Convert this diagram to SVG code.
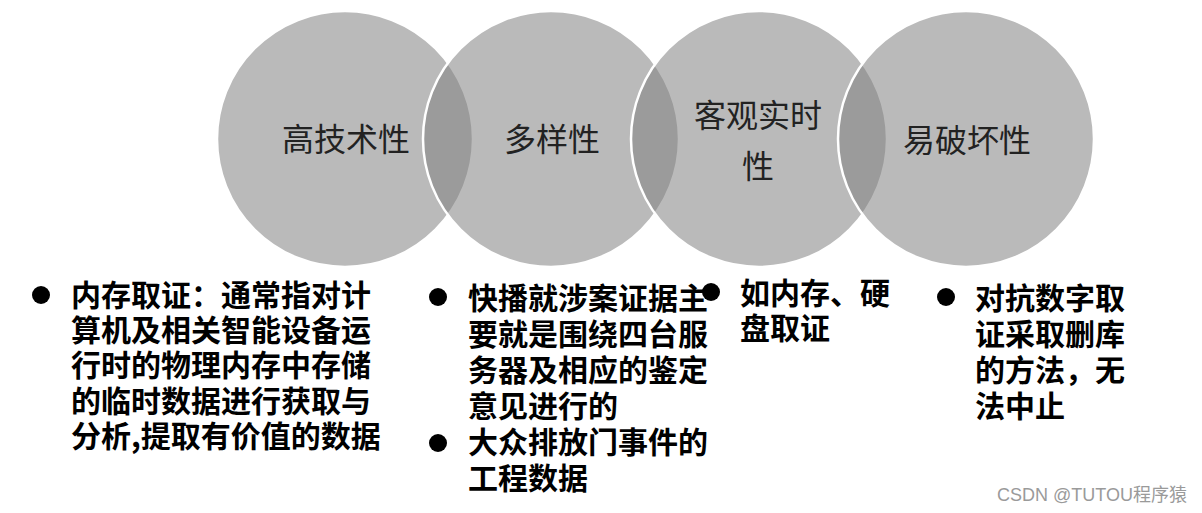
<svg xmlns="http://www.w3.org/2000/svg" width="1202" height="513" viewBox="0 0 1202 513">
<style>
.c{fill:#828282;fill-opacity:0.55;stroke:#ffffff;stroke-width:2.5}
.ct{font-family:"Noto Sans CJK SC","Liberation Sans",sans-serif;font-size:32px;fill:#222222;text-anchor:middle;font-weight:400}
.bt{font-family:"Noto Sans CJK SC","Liberation Sans",sans-serif;font-size:30px;fill:#000000;font-weight:700}
.dot{fill:#000000}
.wm{font-family:"Liberation Sans","Noto Sans CJK SC",sans-serif;font-size:18px;fill:#9a9a9a}
</style>
<rect width="1202" height="513" fill="#ffffff"/>
<g id="node-gaojishuxing">
<circle class="c" cx="345" cy="139" r="128"/>
<text class="ct" x="346" y="151">高技术性</text>
</g>
<g id="node-duoyangxing">
<circle class="c" cx="551" cy="139" r="128"/>
<text class="ct" x="552" y="151">多样性</text>
</g>
<g id="node-keguanshishixing">
<circle class="c" cx="759" cy="139" r="128"/>
<text class="ct" x="758" y="127"><tspan x="758" y="127">客观实时</tspan><tspan x="758" y="178">性</tspan></text>
</g>
<g id="node-yipohuaixing">
<circle class="c" cx="966" cy="139" r="128"/>
<text class="ct" x="967" y="152">易破坏性</text>
</g>
<g id="connectors"></g>
<g id="text-col1">
<circle class="dot" cx="41" cy="295" r="9"/>
<text class="bt"><tspan x="71" y="306">内存取证：通常指对计</tspan><tspan x="71" y="341">算机及相关智能设备运</tspan><tspan x="71" y="376">行时的物理内存中存储</tspan><tspan x="71" y="412">的临时数据进行获取与</tspan><tspan x="71" y="447">分析,提取有价值的数据</tspan></text>
</g>
<g id="text-col2">
<circle class="dot" cx="438" cy="297" r="9"/>
<text class="bt"><tspan x="468" y="309">快播就涉案证据主</tspan><tspan x="468" y="345">要就是围绕四台服</tspan><tspan x="468" y="381">务器及相应的鉴定</tspan><tspan x="468" y="417">意见进行的</tspan></text>
<circle class="dot" cx="438" cy="443" r="9"/>
<text class="bt"><tspan x="468" y="453">大众排放门事件的</tspan><tspan x="468" y="489">工程数据</tspan></text>
</g>
<g id="text-col3">
<circle class="dot" cx="711" cy="292" r="9"/>
<text class="bt"><tspan x="740" y="304">如内存、硬</tspan><tspan x="740" y="339">盘取证</tspan></text>
</g>
<g id="text-col4">
<circle class="dot" cx="946" cy="297" r="9"/>
<text class="bt"><tspan x="975" y="309">对抗数字取</tspan><tspan x="975" y="345">证采取删库</tspan><tspan x="975" y="381">的方法，无</tspan><tspan x="975" y="417">法中止</tspan></text>
</g>
<text class="wm" x="997" y="501">CSDN @TUTOU程序猿</text>
</svg>
